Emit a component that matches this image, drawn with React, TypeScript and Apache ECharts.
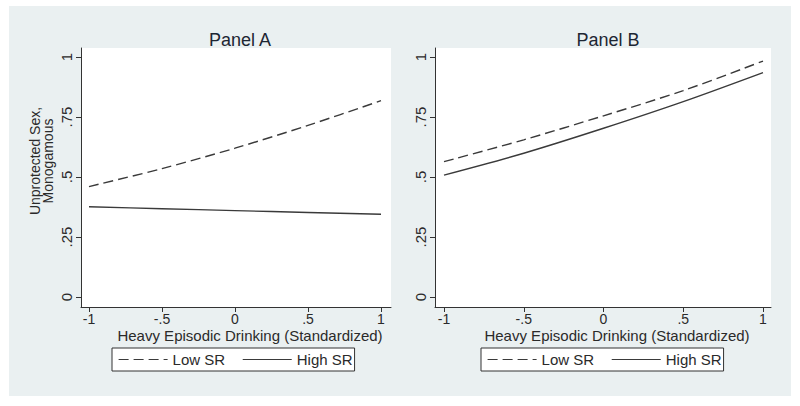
import React, { useEffect, useRef } from "react";
import * as echarts from "echarts";

const xValues = [-1, -0.5, 0, 0.5, 1];
const panelALow = [0.46, 0.535, 0.62, 0.715, 0.818];
const panelAHigh = [0.376, 0.368, 0.36, 0.352, 0.345];
const panelBLow = [0.564, 0.655, 0.755, 0.86, 0.983];
const panelBHigh = [0.508, 0.599, 0.703, 0.814, 0.935];

const yTicks = [0, 0.25, 0.5, 0.75, 1];
const yTickLabels = ["0", ".25", ".5", ".75", "1"];
const xTicks = [-1, -0.5, 0, 0.5, 1];
const xTickLabels = ["-1", "-.5", "0", ".5", "1"];

const seriesNames = ["Low SR", "High SR"];
const panelTitles = ["Panel A", "Panel B"];
const xTitle = "Heavy Episodic Drinking (Standardized)";
const yTitle = "Unprotected Sex,\nMonogamous";

const FONT = "'Liberation Sans', Arial, sans-serif";
const INK = "#2a2a2a";

function fmt(list: number[], labels: string[]) {
  return (v: number) => {
    const i = list.findIndex((t) => Math.abs(t - v) < 1e-6);
    return i >= 0 ? labels[i] : "";
  };
}

export default function App() {
  const ref = useRef<HTMLDivElement>(null);
  useEffect(() => {
    if (!ref.current) return;
    const chart = echarts.init(ref.current, undefined, { renderer: "svg" });

    const makeX = (gridIndex: number, min: number, max: number) => ({
      type: "value",
      gridIndex,
      min,
      max,
      splitLine: { show: false },
      axisLine: { show: true, onZero: false, lineStyle: { color: "#333", width: 1 } },
      axisTick: { show: true, length: 5, customValues: xTicks, lineStyle: { color: "#333" } },
      axisLabel: {
        customValues: xTicks,
        formatter: fmt(xTicks, xTickLabels),
        fontSize: 14,
        lineHeight: 14,
        fontFamily: FONT,
        color: INK,
        margin: 5,
      },
      name: xTitle,
      nameLocation: "middle",
      nameGap: 21,
      nameMoveOverlap: false,
      nameTextStyle: { fontSize: 15, lineHeight: 15, fontFamily: FONT, color: INK, padding: [0, 0, 0, 28] },
    });

    const makeY = (gridIndex: number, withName: boolean) => ({
      type: "value",
      gridIndex,
      min: -10 / 240,
      max: 1 + 9 / 240,
      splitLine: { show: false },
      axisLine: { show: true, onZero: false, lineStyle: { color: "#333", width: 1 } },
      axisTick: { show: true, length: 5, customValues: yTicks, lineStyle: { color: "#333" } },
      axisLabel: {
        customValues: yTicks,
        formatter: fmt(yTicks, yTickLabels),
        rotate: 90,
        fontSize: 15,
        fontFamily: FONT,
        color: INK,
        margin: 7,
      },
      name: withName ? yTitle : "",
      nameLocation: "middle",
      nameRotate: 90,
      nameGap: 27,
      nameMoveOverlap: false,
      nameTextStyle: { fontSize: 14, fontFamily: FONT, color: INK, lineHeight: 13, padding: [0, 0, 0, 33] },
    });

    const lineSeries = (name: string, data: number[], idx: number, dashed: boolean) => ({
      type: "line",
      name,
      xAxisIndex: idx,
      yAxisIndex: idx,
      data: xValues.map((x, i) => [x, data[i]]),
      smooth: 0.3,
      symbol: "none",
      lineStyle: { color: "#3a3a3a", width: 1.4, type: dashed ? [10, 5] : "solid" },
      itemStyle: { color: "#3a3a3a" },
    });

    const legendBase = {
      data: seriesNames,
      orient: "horizontal",
      top: 348,
      padding: [4, 2, 4, 6],
      itemWidth: 49,
      itemHeight: 14,
      itemGap: 17,
      borderColor: "#333",
      borderWidth: 1,
      borderRadius: 0,
      backgroundColor: "#ffffff",
      selectedMode: false,
      itemStyle: { opacity: 0 },
      lineStyle: { width: 1.2 },
      textStyle: { fontSize: 15, fontFamily: FONT, color: INK },
    };

    chart.setOption({
      animation: false,
      backgroundColor: "#ffffff",
      textStyle: { fontFamily: FONT },
      graphic: [
        {
          type: "rect",
          z: -10,
          shape: { x: 9, y: 6, width: 782, height: 390 },
          style: { fill: "#eaf0f1" },
          silent: true,
        },
      ],
      title: [
        {
          text: panelTitles[0],
          left: 235,
          top: 26,
          textAlign: "center",
          textStyle: { fontSize: 18, fontWeight: "normal", fontFamily: FONT, color: "#1d2633" },
        },
        {
          text: panelTitles[1],
          left: 603,
          top: 26,
          textAlign: "center",
          textStyle: { fontSize: 18, fontWeight: "normal", fontFamily: FONT, color: "#1d2633" },
        },
      ],
      legend: [
        { ...legendBase, left: 112 },
        { ...legendBase, left: 481 },
      ],
      grid: [
        { left: 81, top: 48, width: 310, height: 259, show: true, backgroundColor: "#ffffff", borderWidth: 0 },
        { left: 435, top: 48, width: 336, height: 259, show: true, backgroundColor: "#ffffff", borderWidth: 0 },
      ],
      xAxis: [makeX(0, -1 - 8 / 146, 1 + 10 / 146), makeX(1, -1 - 9 / 159.5, 1 + 8 / 159.5)],
      yAxis: [makeY(0, true), makeY(1, false)],
      series: [
        lineSeries(seriesNames[0], panelALow, 0, true),
        lineSeries(seriesNames[1], panelAHigh, 0, false),
        lineSeries(seriesNames[0], panelBLow, 1, true),
        lineSeries(seriesNames[1], panelBHigh, 1, false),
      ],
    });
    return () => chart.dispose();
  }, []);

  return (
    <div style={{ position: "fixed", left: 0, top: 0, width: 800, height: 406, background: "#fff" }}>
      <div ref={ref} style={{ width: 800, height: 406 }} />
    </div>
  );
}
